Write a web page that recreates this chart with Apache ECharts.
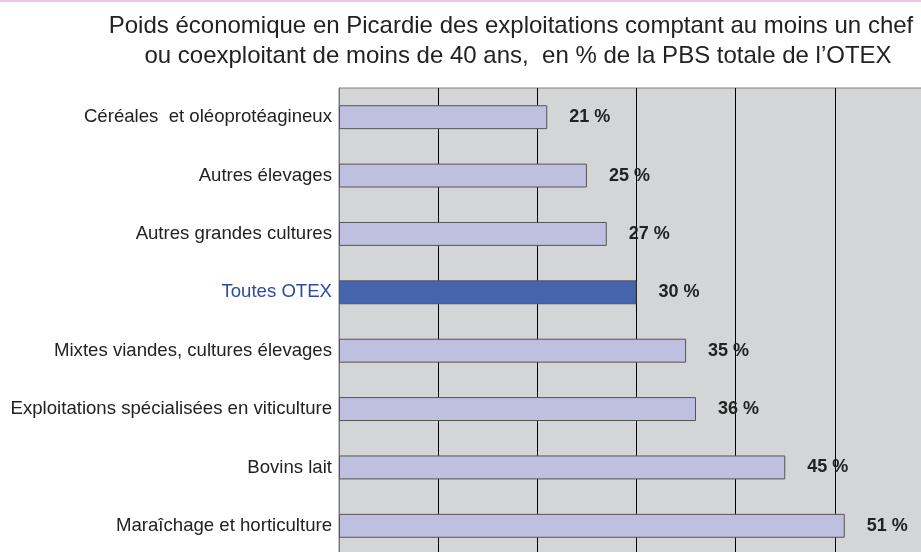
<!DOCTYPE html>
<html>
<head>
<meta charset="utf-8">
<script src="https://cdn.jsdelivr.net/npm/echarts@6/dist/echarts.min.js"></script>
<style>
  html, body { margin: 0; padding: 0; background: #fff; overflow: hidden; width: 921px; height: 552px; }
  #chart { width: 940px; height: 560px; }
</style>
</head>
<body>
<div id="chart"></div>
<script>
const categories = [
  'Céréales  et oléoprotéagineux',
  'Autres élevages',
  'Autres grandes cultures',
  'Toutes OTEX',
  'Mixtes viandes, cultures élevages',
  'Exploitations spécialisées en viticulture',
  'Bovins lait',
  'Maraîchage et horticulture'
]
const values = [21, 25, 27, 30, 35, 36, 45, 51]
const highlight = 'Toutes OTEX'
const titleLines = [
  'Poids économique en Picardie des exploitations comptant au moins un chef',
  'ou coexploitant de moins de 40 ans,  en % de la PBS totale de l\u2019OTEX'
]

const titleStyle = {
  fontFamily: 'Liberation Sans',
  fontSize: 24,
  fontWeight: 'normal',
  color: '#222'
}

const myEcharts = echarts.init(document.getElementById('chart'))
myEcharts.setOption({
  animation: false,
  title: [
    { text: titleLines[0], left: 506, top: 9, textAlign: 'center', textStyle: titleStyle },
    { text: titleLines[1], left: 513, top: 39, textAlign: 'center', textStyle: titleStyle }
  ],
  graphic: [
    { type: 'rect', shape: { x: 0, y: 0, width: 940, height: 2 }, style: { fill: '#f5c3e3' } }
  ],
  grid: {
    left: 339,
    top: 88,
    right: 6,
    bottom: 5,
    show: true,
    backgroundColor: '#d4d5d7',
    borderColor: '#808080',
    borderWidth: 1
  },
  xAxis: {
    type: 'value',
    min: 0,
    max: 60,
    interval: 10,
    axisLabel: { show: false },
    axisTick: { show: false },
    axisLine: { show: false },
    splitLine: { lineStyle: { color: '#000', width: 1 } }
  },
  yAxis: {
    type: 'category',
    data: categories,
    inverse: true,
    axisLine: { lineStyle: { color: '#777', width: 1 } },
    axisTick: { show: false },
    axisLabel: {
      fontFamily: 'Liberation Sans',
      fontSize: 18.6,
      margin: 7,
      color: (value) => value === highlight ? '#2f4a9e' : '#222'
    }
  },
  series: [
    {
      type: 'bar',
      data: values.map((v, i) => categories[i] === highlight
        ? { value: v, itemStyle: { color: '#4464ad' } }
        : v),
      barCategoryGap: '59%',
      itemStyle: {
        color: '#bfbfdf',
        borderColor: '#555',
        borderWidth: 1
      },
      label: {
        show: true,
        position: 'right',
        distance: 22,
        formatter: '{c} %',
        fontFamily: 'Liberation Sans',
        fontSize: 18,
        fontWeight: 'bold',
        color: '#222'
      }
    }
  ]
})
</script>
</body>
</html>
